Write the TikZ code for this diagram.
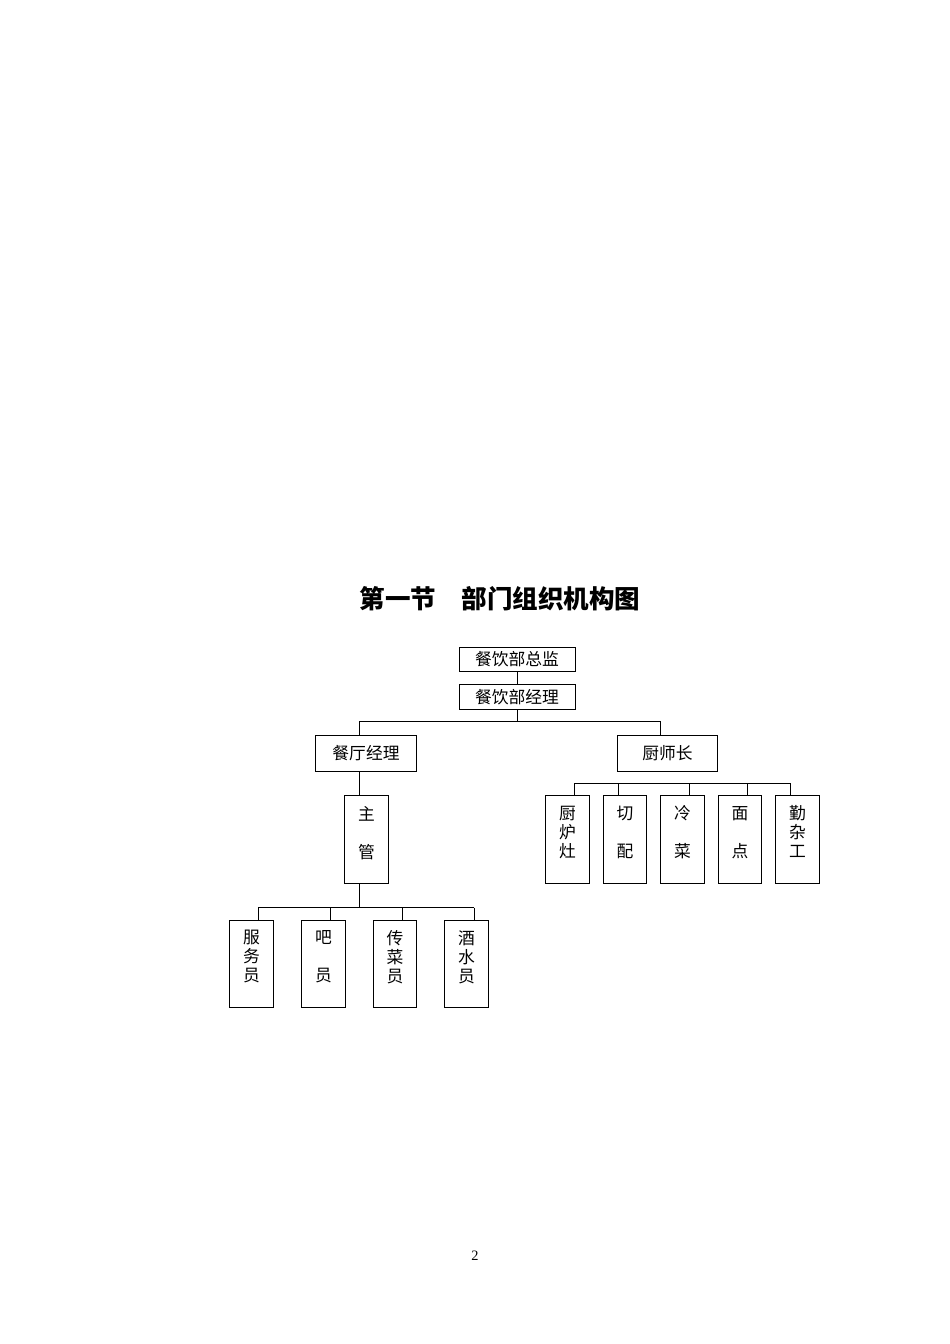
\documentclass[tikz,border=0pt]{standalone}
\usepackage{fontspec}
\setmainfont{Liberation Serif}
\newfontfamily\cjk{Noto Sans CJK SC}
\newcommand*{\px   }{0.6266pt}
\newcommand*{\colw }{43.5*\px}
\newcommand*{\colh }{87.5*\px}
\newcommand*{\vtext}[3]{#1\\#2\\#3\\[-3pt]\phantom{#1}}
\tikzset{
    box/.style={draw, line width=0.6pt, inner sep=0pt, align=center,
        font=\cjk\fontsize{10.5}{11.9}\selectfont},
    topbox/.style={box, minimum width=116*\px, minimum height=24.5*\px},
    midbox/.style={box, minimum width=100.5*\px, minimum height=36*\px},
    colbox/.style={box, minimum width=\colw, minimum height=\colh},
    link/.style={line width=0.6pt}
}

\begin{document}
\begin{tikzpicture}[x=0.6266pt, y=-0.6266pt]
    \useasboundingbox (0,0) rectangle (950,1344);
    % title and page number
    \node (title) at (500,599) {\cjk\fontsize{16}{18}\selectfont\bfseries 第一节　部门组织机构图};
    \node (pnum) at (475,1256) {\fontsize{9}{10}\selectfont 2};
    % top of the tree
    \node [topbox] (zj) at (517,659.5) {餐饮部总监};
    \node [topbox] (jl) at (517,697)   {餐饮部经理};
    \node [midbox] (ct) at (366,753)   {餐厅经理};
    \node [midbox] (cs) at (667.5,753) {厨师长};
    \node [colbox] (zg) at (366.5,839.5) {\vtext{主}{\phantom{主}}{管}};
    % kitchen columns
    \node [colbox] (clz) at (567.5,839.5) {\vtext{厨}{炉}{灶}};
    \node [colbox] (qp)  at (625,839.5)   {\vtext{切}{\phantom{切}}{配}};
    \node [colbox] (lc)  at (682.5,839.5) {\vtext{冷}{\phantom{冷}}{菜}};
    \node [colbox] (md)  at (740,839.5)   {\vtext{面}{\phantom{面}}{点}};
    \node [colbox] (qzg) at (797.5,839.5) {\vtext{勤}{杂}{工}};
    % restaurant columns
    \node [colbox] (fwy) at (251.5,964) {\vtext{服}{务}{员}};
    \node [colbox] (by)  at (323.5,964) {\vtext{吧}{\phantom{吧}}{员}};
    \node [colbox] (ccy) at (395,964)   {\vtext{传}{菜}{员}};
    \node [colbox] (jsy) at (466.5,964) {\vtext{酒}{水}{员}};
    % connectors
    \coordinate (spine) at (517,721);
    \coordinate (ctl) at (359,721);
    \coordinate (csl) at (660,721);
    \draw [link] (zj) -- (jl);
    \draw [link] (jl.south) -- (spine);
    \draw [link] (ctl) -- (csl);
    \draw [link] (ctl) -- (ctl |- ct.north);
    \draw [link] (csl) -- (csl |- cs.north);
    \draw [link] (ctl |- ct.south) -- (ctl |- zg.north);
    \coordinate (zgb) at (359,907.5);
    \draw [link] (ctl |- zg.south) -- (zgb);
    \coordinate (lrowa) at (258,907.5);
    \coordinate (lrowb) at (474,907.5);
    \draw [link] (lrowa) -- (lrowb);
    \foreach \s/\b in {258/fwy,330/by,402/ccy,474/jsy}
        {\coordinate (l\b) at (\s,907.5);
         \draw [link] (l\b) -- (l\b |- \b.north);}
    \coordinate (rrowa) at (574,783);
    \coordinate (rrowb) at (790,783);
    \draw [link] (rrowa) -- (rrowb);
    \foreach \s/\b in {574/clz,618/qp,689/lc,747/md,790/qzg}
        {\coordinate (r\b) at (\s,783);
         \draw [link] (r\b) -- (r\b |- \b.north);}
\end{tikzpicture}
\end{document}
